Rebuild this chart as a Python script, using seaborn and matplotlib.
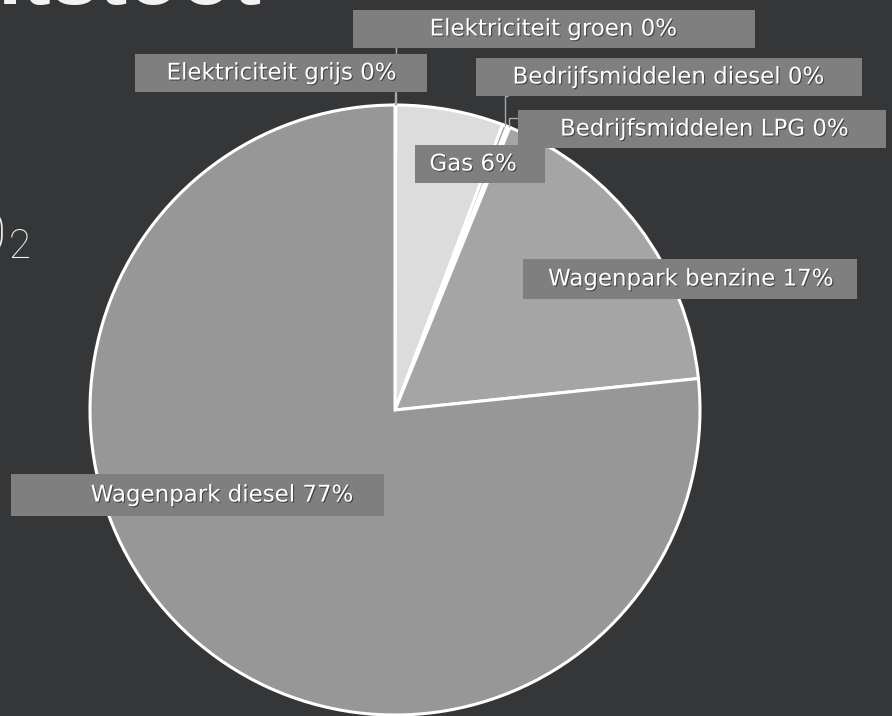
import numpy as np
import matplotlib
matplotlib.use("Agg")
import matplotlib.pyplot as plt
import matplotlib.patheffects as pe
from matplotlib.patches import Rectangle
import seaborn as sns

# slice data, clockwise from 12 o'clock
categories = ["Elektriciteit grijs", "Elektriciteit groen", "Gas",
              "Bedrijfsmiddelen diesel", "Bedrijfsmiddelen LPG",
              "Wagenpark benzine", "Wagenpark diesel"]
values = [0.02, 0.02, 5.7, 0.25, 0.15, 17.2, 76.6]
slice_colors = ["#d0d0d0", "#d0d0d0", "#dcdcdc", "#a6a6a6", "#a6a6a6", "#a5a5a5", "#979797"]

BG = "#353638"
W, H = 892, 716

sns.set_theme(style="dark", rc={"figure.facecolor": BG, "axes.facecolor": BG})
plt.rcParams['font.family'] = ['DejaVu Sans']

fig = plt.figure(figsize=(W / 100, H / 100), dpi=100)
ax = fig.add_axes([0, 0, 1, 1])

cx, cy, R = 395, H - 410, 305
wedges, _ = ax.pie(values, colors=slice_colors, startangle=90, counterclock=False,
                   center=(cx, cy), radius=R,
                   wedgeprops=dict(edgecolor="white", linewidth=2.2))
ax.set_xlim(0, W)
ax.set_ylim(0, H)
ax.set_aspect("equal")
ax.axis("off")

# label layout in pixels from top-left: box (x0, y0, x1, y1), text centre, leader anchor
layout = {
    "Elektriciteit groen": ((353, 10, 755, 48), (553, 29), (395, 48)),
    "Elektriciteit grijs": ((135, 54, 427, 92), (281, 73), (395, 92)),
    "Bedrijfsmiddelen diesel": ((476, 58, 862, 96), (668, 77), (508, 96)),
    "Bedrijfsmiddelen LPG": ((518, 110, 886, 148), (704, 129), (518, 118)),
    "Gas": ((415, 145, 545, 183), (473, 164), None),
    "Wagenpark benzine": ((523, 259, 857, 299), (691, 279), None),
    "Wagenpark diesel": ((11, 474, 384, 516), (222, 495), None),
}

total = sum(values)
shadow = [pe.SimplePatchShadow(offset=(0.8, -0.8), shadow_rgbFace="black", alpha=0.45),
          pe.Normal()]

# leader lines first so the boxes sit on top
for name, w in zip(categories, wedges):
    box, tc, anchor = layout[name]
    if anchor is None:
        continue
    mid = np.deg2rad((w.theta1 + w.theta2) / 2)
    rx, ry = cx + R * np.cos(mid), cy + R * np.sin(mid)
    ax.plot([anchor[0], rx, rx], [H - anchor[1], H - anchor[1], ry],
            color="#a8a8a8", lw=1, zorder=2, solid_capstyle="butt")

for name, v in zip(categories, values):
    (x0, y0, x1, y1), (tx, ty), _ = layout[name]
    ax.add_patch(Rectangle((x0, H - y1), x1 - x0, y1 - y0, facecolor="#7f7f7f",
                           edgecolor="none", zorder=3))
    t = ax.text(tx, H - ty, f"{name} {v / total * 100:.0f}%", ha="center", va="center",
                color="white", fontsize=16.5, zorder=4)
    t.set_path_effects(shadow)

# heading text, clipped by the page edges as in the source
ax.text(262, H - 4, "Uitstoot", ha="right", va="baseline", color="#f2f2f2",
        fontsize=62, fontweight="bold", family=["Liberation Sans", "DejaVu Sans"])
ax.text(7, H - 256, "CO", ha="right", va="baseline", color="#f2f2f2",
        fontsize=46, fontweight="light", family=["Roboto", "DejaVu Sans"])
ax.text(9, H - 258, "2", ha="left", va="baseline", color="#f2f2f2",
        fontsize=29, fontweight="light", family=["Roboto", "DejaVu Sans"])

fig.savefig("out.png", dpi=100, facecolor=BG)
